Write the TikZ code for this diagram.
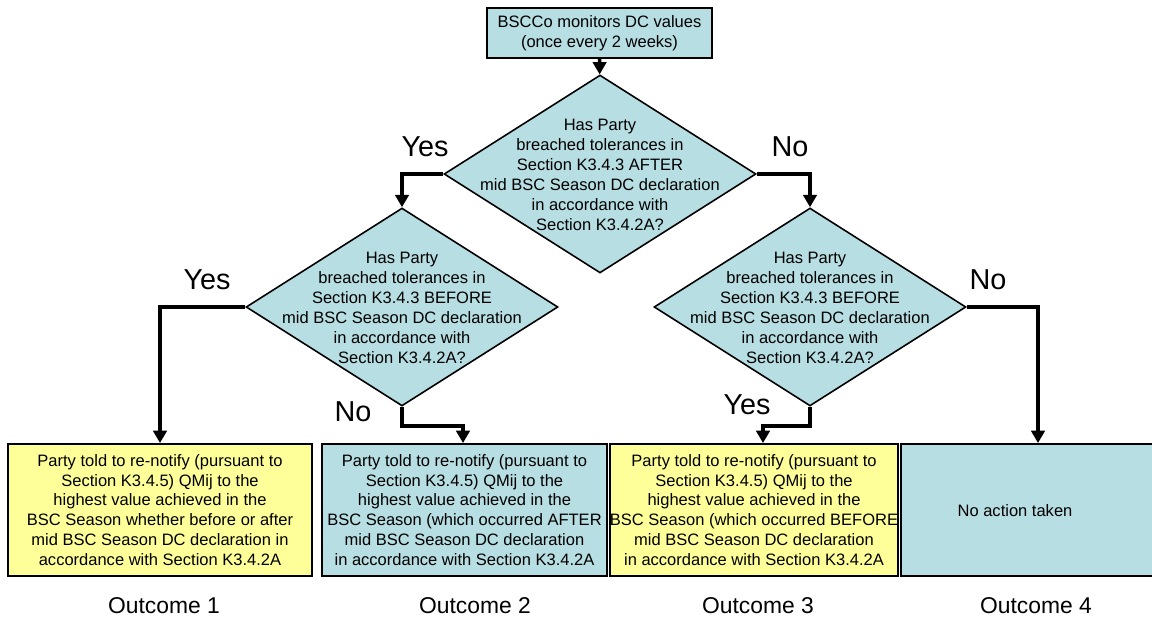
\documentclass[tikz,border=0pt]{standalone}
\usepackage{fontspec}
\setmainfont{Liberation Sans}
\usetikzlibrary{shapes.geometric,arrows.meta}
\definecolor{bscblue}{RGB}{183,222,226}
\definecolor{bscyellow}{RGB}{255,255,153}
\tikzset{
  txt/.style={font=\fontsize{9.4}{11.3}\selectfont,align=center,inner sep=0pt},
  outbox/.style={draw,line width=1.1pt,inner sep=0pt,minimum height=2.64cm,txt},
  query/.style={diamond,draw,fill=bscblue,line width=0.9pt,inner sep=0pt,minimum width=6.24cm,minimum height=3.96cm},
  flow/.style={line width=2.1pt,-{Triangle[length=7pt,width=7.6pt]}},
  answer/.style={font=\fontsize{16.4}{19}\selectfont},
  outcome/.style={font=\fontsize{13}{15}\selectfont}
}
\begin{document}
\begin{tikzpicture}[x=0.02cm,y=-0.02cm]
\useasboundingbox (0,0) rectangle (1152,621);
\node[draw,fill=bscblue,line width=1.1pt,txt,minimum width=4.5cm,minimum height=1cm] (start) at (599.5,33)
  {BSCCo monitors DC values\\(once every 2 weeks)};
\node[query] (q1) at (600,174) {};
\node[txt] (q1t) at (600,175) {Has Party\\breached tolerances in\\Section K3.4.3 AFTER\\mid BSC Season DC declaration\\in accordance with\\Section K3.4.2A?};
\node[query] (q2) at (402,307) {};
\node[txt] (q2t) at (402,308) {Has Party\\breached tolerances in\\Section K3.4.3 BEFORE\\mid BSC Season DC declaration\\in accordance with\\Section K3.4.2A?};
\node[query] (q3) at (810,307) {};
\node[txt] (q3t) at (810,308) {Has Party\\breached tolerances in\\Section K3.4.3 BEFORE\\mid BSC Season DC declaration\\in accordance with\\Section K3.4.2A?};
\node[outbox,fill=bscyellow,minimum width=6.08cm] (out1) at (160,510)
  {Party told to re-notify (pursuant to\\Section K3.4.5) QMij to the\\highest value achieved in the\\BSC Season whether before or after\\mid BSC Season DC declaration in\\accordance with Section K3.4.2A};
\node[outbox,fill=bscblue,minimum width=5.7cm] (out2) at (464.5,510)
  {Party told to re-notify (pursuant to\\Section K3.4.5) QMij to the\\highest value achieved in the\\BSC Season (which occurred AFTER\\mid BSC Season DC declaration\\in accordance with Section K3.4.2A};
\node[outbox,fill=bscyellow,minimum width=5.56cm] (out3) at (754,510)
  {Party told to re-notify (pursuant to\\Section K3.4.5) QMij to the\\highest value achieved in the\\BSC Season (which occurred BEFORE\\mid BSC Season DC declaration\\in accordance with Section K3.4.2A};
\node[outbox,fill=bscblue,minimum width=5.48cm] (out4) at (1038,510) {};
\node[txt] (out4t) at (1015,511) {No action taken};
% connectors
\draw[flow] (start) -- (q1);
\draw[flow] (q1.west) -| (q2.north);
\draw[flow] (q1.east) -| (q3.north);
\draw[flow] (q2.west) -| (out1.north);
\draw[flow] (q2.south) -- ++(0,19) -| ([xshift=-0.03cm]out2.north);
\draw[flow] (q3.south) -- ++(0,19) -| ([xshift=0.18cm]out3.north);
\draw[flow] (q3.east) -| (out4.north);
% answers
\node[answer] (y1) at (425,147) {Yes};
\node[answer] (n1) at (790,147) {No};
\node[answer] (y2) at (207,280) {Yes};
\node[answer] (n2) at (353,412) {No};
\node[answer] (y3) at (747,405) {Yes};
\node[answer] (n3) at (988,280) {No};
% outcomes
\node[outcome] (o1) at (164,606) {Outcome 1};
\node[outcome] (o2) at (475,606) {Outcome 2};
\node[outcome] (o3) at (758,606) {Outcome 3};
\node[outcome] (o4) at (1036,606) {Outcome 4};
\end{tikzpicture}
\end{document}
